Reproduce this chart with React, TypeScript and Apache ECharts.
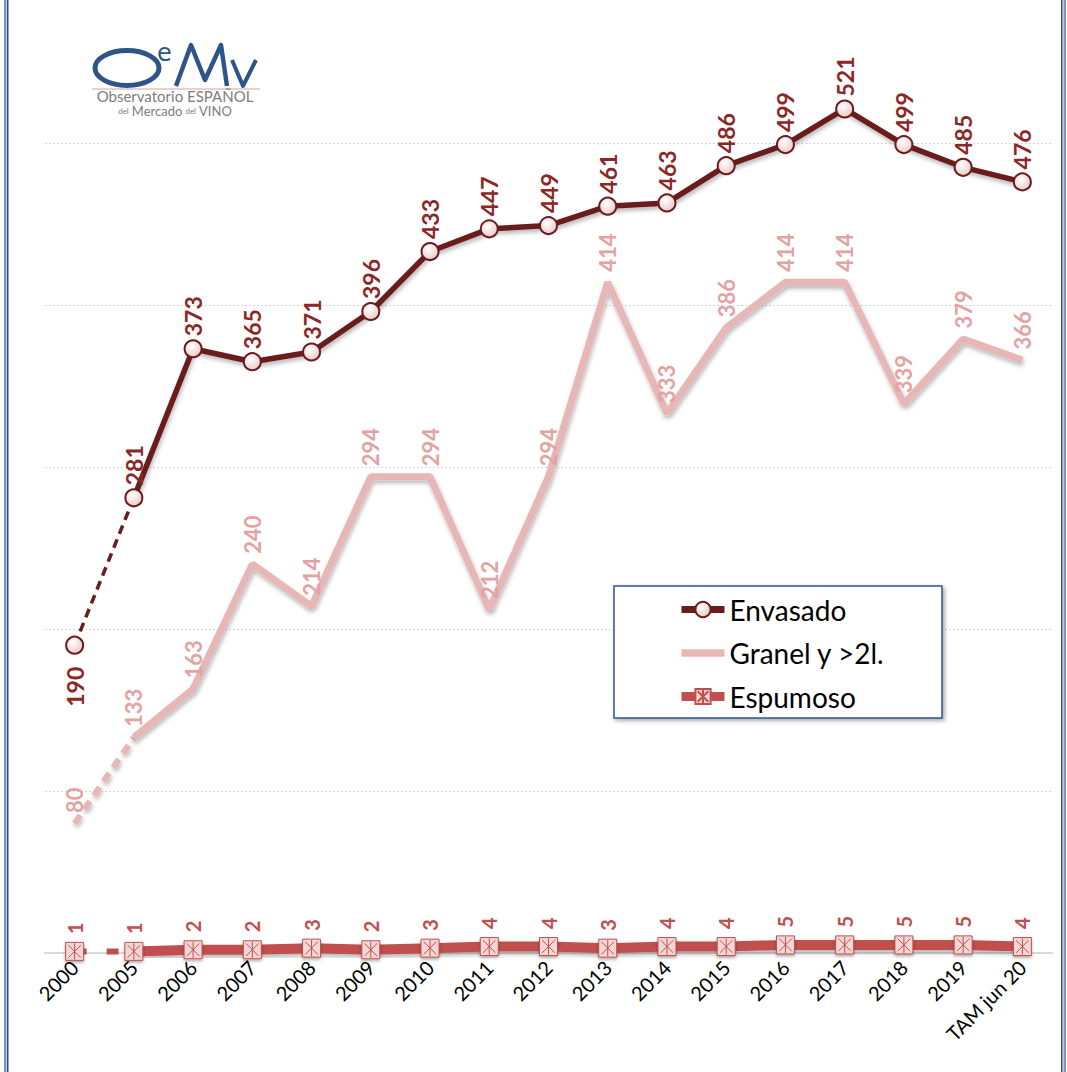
import React, { useEffect, useRef } from "react";
import * as echarts from "echarts";

const categories = ["2000", "2005", "2006", "2007", "2008", "2009", "2010", "2011", "2012", "2013", "2014", "2015", "2016", "2017", "2018", "2019", "TAM jun 20"];
const envasado = [190, 281, 373, 365, 371, 396, 433, 447, 449, 461, 463, 486, 499, 521, 499, 485, 476];
const granel = [80, 133, 163, 240, 214, 294, 294, 212, 294, 414, 333, 386, 414, 414, 339, 379, 366];
const espumoso = [1, 1, 2, 2, 3, 2, 3, 4, 4, 3, 4, 4, 5, 5, 5, 5, 4];

const FONT = "Lato, 'Open Sans', sans-serif";
const C_ENV = "#6b1b1b";
const C_ENV_LBL = "#8c2727";
const C_GRA = "#e6b7b6";
const C_GRA_LBL = "#e2a3a2";
const C_ESP = "#c0504d";
const C_LOGO = "#2f5588";
const OFF = 19; // chart canvas starts 19px above the page top

const espSymbol = "path://M0,0H10V10H0Z M1.5,1.5L8.5,8.5 M8.5,1.5L1.5,8.5 M5,0.5V9.5";

const shadow = { shadowColor: "rgba(0,0,0,0.28)", shadowBlur: 4, shadowOffsetX: 1, shadowOffsetY: 3 };

function mainData(arr: number[]) {
  return arr.map((v, i) => (i === 0 ? "-" : v));
}
function dashData(arr: number[], lbl: any, sym: any) {
  return arr.map((v, i) => {
    if (i === 0) return { value: v, label: lbl, ...sym };
    if (i === 1) return { value: v, symbol: "none", label: { show: false } };
    return "-";
  });
}

const upLabel = (color: string, size: number, distance: number) => ({
  show: true,
  position: "top",
  distance,
  rotate: 90,
  align: "left",
  verticalAlign: "middle",
  color,
  fontSize: size,
  fontWeight: "bold",
  fontFamily: FONT,
});

export default function App() {
  const ref = useRef<HTMLDivElement>(null);
  useEffect(() => {
    const chart = echarts.init(ref.current!, null, { renderer: "svg" });
    const envItem = {
      color: new echarts.graphic.RadialGradient(0.4, 0.35, 0.7, [
        { offset: 0, color: "#ffffff" },
        { offset: 1, color: "#e9c6c6" },
      ]),
      borderColor: C_ENV,
      borderWidth: 2,
    };
    const espItem = {
      color: "#f3d6d5",
      borderColor: C_ESP,
      borderWidth: 1,
      shadowColor: "rgba(0,0,0,0.3)",
      shadowBlur: 3,
      shadowOffsetY: 2,
    };
    const graItem = { color: "rgba(0,0,0,0)" };
    chart.setOption({
      animation: false,
      backgroundColor: "#ffffff",
      grid: { left: 45, right: 15, top: 0, bottom: 119, containLabel: false },
      xAxis: {
        type: "category",
        data: categories,
        boundaryGap: true,
        axisLine: { show: true, lineStyle: { color: "#d9d9d9", width: 2 } },
        axisTick: { show: false },
        axisLabel: {
          rotate: 45,
          interval: 0,
          color: "#000000",
          fontSize: 20,
          fontFamily: FONT,
          margin: 11,
        },
      },
      yAxis: {
        type: "value",
        min: 0,
        max: 600,
        interval: 100,
        axisLine: { show: false },
        axisTick: { show: false },
        axisLabel: { show: false },
        splitLine: { show: true, lineStyle: { color: "#d4d4d4", type: [2, 2], width: 1 } },
      },
      legend: {
        data: [
          { name: "Envasado", lineStyle: { width: 7 } },
          { name: "Granel y >2l.", icon: "path://M0,0H40V7H0Z", itemStyle: { color: C_GRA } },
          { name: "Espumoso", lineStyle: { width: 9 } },
        ],
        orient: "vertical",
        left: 677,
        top: 596 + OFF - 1,
        padding: 0,
        itemWidth: 43,
        itemHeight: 19,
        itemGap: 14.5,
        z: 20,
        textStyle: { fontSize: 28, color: "#000000", fontFamily: FONT, lineHeight: 29 },
      },
      graphic: [
        {
          type: "rect",
          z: 10,
          shape: { x: 614, y: 586 + OFF, width: 328, height: 132 },
          style: { fill: "#ffffff", stroke: "#2f5496", lineWidth: 1.5, shadowColor: "rgba(0,0,0,0.35)", shadowBlur: 4, shadowOffsetX: 2, shadowOffsetY: 2 },
        },
        { type: "rect", z: 30, shape: { x: 4, y: 0, width: 2.5, height: 1200 }, style: { fill: "#7f95b8" } },
        { type: "rect", z: 30, shape: { x: 7, y: 0, width: 1.5, height: 1200 }, style: { fill: "#2f4f86" } },
        { type: "rect", z: 30, shape: { x: 1061, y: 0, width: 1.5, height: 1200 }, style: { fill: "#2f4f86" } },
        { type: "rect", z: 30, shape: { x: 1063.5, y: 0, width: 2.5, height: 1200 }, style: { fill: "#7f95b8" } },
        // logo
        { type: "ellipse", z: 30, shape: { cx: 127, cy: 68 + OFF, rx: 32, ry: 17.5 }, style: { fill: "none", stroke: C_LOGO, lineWidth: 5 } },
        { type: "text", z: 30, x: 157, y: 44 + OFF, style: { text: "e", fontSize: 24, fill: C_LOGO, fontFamily: "'DejaVu Sans', sans-serif", verticalAlign: "top", lineHeight: 18 } },
        {
          type: "polyline",
          z: 30,
          shape: { points: [[176, 86 + OFF], [191, 45 + OFF], [205, 80 + OFF], [221, 45 + OFF], [227, 86 + OFF]] },
          style: { stroke: C_LOGO, lineWidth: 4.5, fill: "none", lineJoin: "round" },
        },
        {
          type: "polyline",
          z: 30,
          shape: { points: [[232, 60 + OFF], [243, 86 + OFF], [256, 60 + OFF]] },
          style: { stroke: C_LOGO, lineWidth: 4, fill: "none", lineJoin: "round" },
        },
        { type: "line", z: 30, shape: { x1: 92, y1: 89 + OFF, x2: 260, y2: 89 + OFF }, style: { stroke: "#d9a0a0", lineWidth: 1 } },
        { type: "text", z: 30, x: 175, y: 89 + OFF, style: { text: "Observatorio ESPAÑOL", fontSize: 15, fill: "#7d7d7d", fontFamily: FONT, align: "center", lineHeight: 14 } },
        {
          type: "text",
          z: 30,
          x: 175,
          y: 105 + OFF,
          style: {
            text: "{s|del} {b|Mercado} {s|del} {b|VINO}",
            align: "center",
            fontFamily: FONT,
            lineHeight: 12,
            rich: {
              s: { fontSize: 8, fill: "#7d7d7d", fontFamily: FONT, lineHeight: 12 },
              b: { fontSize: 13, fill: "#7d7d7d", fontFamily: FONT, lineHeight: 12 },
            },
          },
        },
      ],
      series: [
        {
          name: "Espumoso-d",
          type: "line",
          data: dashData(espumoso, upLabel(C_ESP, 20, 8), { symbol: espSymbol, symbolSize: 18 }),
          lineStyle: { color: C_ESP, width: 6, type: [12, 20] },
          itemStyle: espItem,
          symbol: espSymbol,
          symbolSize: 18,
          z: 3,
        },
        {
          name: "Granel-d",
          type: "line",
          data: dashData(granel, upLabel(C_GRA_LBL, 22, 10), { symbol: "circle", symbolSize: 1 }),
          symbol: "circle",
          symbolSize: 1,
          itemStyle: graItem,
          lineStyle: { color: C_GRA, width: 6, type: [10, 7], ...shadow },
          z: 3,
        },
        {
          name: "Envasado-d",
          type: "line",
          data: dashData(envasado, { ...upLabel(C_ENV_LBL, 23, 12), position: "bottom", align: "right" }, { symbol: "circle", symbolSize: 17 }),
          lineStyle: { color: C_ENV, width: 3.5, type: [9, 6] },
          symbol: "circle",
          symbolSize: 17,
          itemStyle: envItem,
          z: 4,
        },
        {
          name: "Espumoso",
          type: "line",
          data: mainData(espumoso),
          lineStyle: { color: C_ESP, width: 10, ...shadow },
          symbol: espSymbol,
          symbolSize: 18,
          itemStyle: espItem,
          showSymbol: true,
          label: upLabel(C_ESP, 20, 8),
          z: 3,
        },
        {
          name: "Granel y >2l.",
          type: "line",
          data: mainData(granel),
          lineStyle: { color: C_GRA, width: 7, ...shadow },
          symbol: "circle",
          symbolSize: 1,
          showSymbol: true,
          itemStyle: graItem,
          label: upLabel(C_GRA_LBL, 22, 10),
          z: 3,
        },
        {
          name: "Envasado",
          type: "line",
          data: mainData(envasado),
          lineStyle: { color: C_ENV, width: 5.5, ...shadow },
          symbol: "circle",
          symbolSize: 17,
          itemStyle: envItem,
          showSymbol: true,
          label: upLabel(C_ENV_LBL, 23, 3),
          z: 4,
        },
      ],
    });
    return () => chart.dispose();
  }, []);
  return <div ref={ref} style={{ position: "fixed", left: 0, top: -OFF, width: 1067, height: 1072 + OFF }} />;
}
